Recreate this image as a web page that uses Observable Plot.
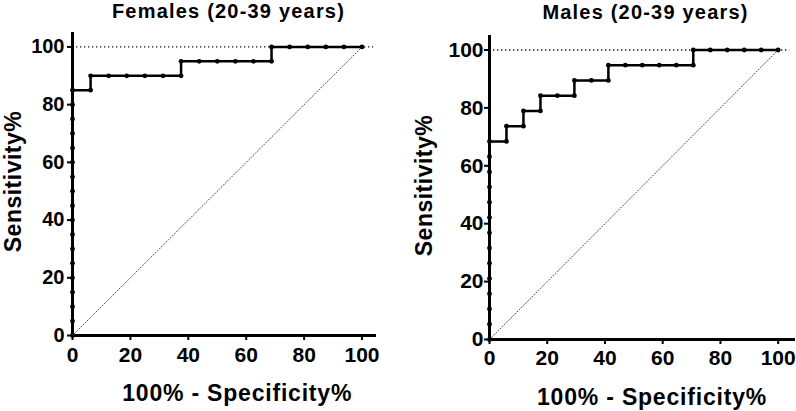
<!DOCTYPE html>
<html>
<head>
<meta charset="utf-8">
<script src="https://cdn.jsdelivr.net/npm/d3@7"></script>
<script src="https://cdn.jsdelivr.net/npm/@observablehq/plot@0.6"></script>
<style>
  html, body { margin: 0; padding: 0; background: #fff; color: #000; }
  #wrap { display: flex; flex-direction: row; width: 796px; height: 411px; overflow: hidden; }
</style>
</head>
<body>
<div id="wrap"></div>
<script>
// ---- data (percent) ----
const panelTitles = ["Females (20-39 years)", "Males (20-39 years)"];
const xAxisTitle = "100% - Specificity%";
const yAxisTitle = "Sensitivity%";
const xTicks = [0, 20, 40, 60, 80, 100];
const yTicks = [0, 20, 40, 60, 80, 100];
const chanceLine = [0, 100];
const perfectLevel = [100];

// Females: 100% - specificity (x) and sensitivity (y)
const femaleX = [0, 0, 0, 0, 0, 0, 0, 0, 0, 0, 0, 0, 0, 0, 0, 0, 0, 0,
  6.25, 6.25, 12.5, 18.75, 25, 31.25, 37.5, 37.5, 43.75, 50, 56.25, 62.5,
  68.75, 68.75, 75, 81.25, 87.5, 93.75, 100];
const femaleY = [0, 5, 10, 15, 20, 25, 30, 35, 40, 45, 50, 55, 60, 65, 70, 75, 80, 85,
  85, 90, 90, 90, 90, 90, 90, 95, 95, 95, 95, 95,
  95, 100, 100, 100, 100, 100, 100];

// Males
const maleX = [0, 0, 0, 0, 0, 0, 0, 0, 0, 0, 0, 0, 0, 0,
  5.88, 5.88, 11.76, 11.76, 17.65, 17.65, 23.53, 29.41, 29.41, 35.29, 41.18, 41.18,
  47.06, 52.94, 58.82, 64.71, 70.59, 70.59, 76.47, 82.35, 88.24, 94.12, 100];
const maleY = [0, 5.26, 10.53, 15.79, 21.05, 26.32, 31.58, 36.84, 42.11, 47.37, 52.63, 57.89, 63.16, 68.42,
  68.42, 73.68, 73.68, 78.95, 78.95, 84.21, 84.21, 84.21, 89.47, 89.47, 89.47, 94.74,
  94.74, 94.74, 94.74, 94.74, 94.74, 100, 100, 100, 100, 100, 100];

function panel(cfg) {
  const pts = cfg.xs.map((x, i) => ({x, y: cfg.ys[i]}));
  const svg = Plot.plot({
    width: 398,
    height: 411,
    marginLeft: cfg.ml,
    marginRight: cfg.mr,
    marginTop: cfg.mt,
    marginBottom: cfg.mb,
    style: {fontFamily: "'Liberation Sans', Arial, sans-serif", fontWeight: "bold", color: "#000", background: "#fff", overflow: "visible"},
    x: {domain: [0, cfg.xmax]},
    y: {domain: [0, 105]},
    marks: [
      Plot.line(chanceLine, {x: d => d, y: d => d, stroke: "#444", strokeWidth: 1, strokeDasharray: "1,2"}),
      Plot.ruleY(perfectLevel, {x1: 0, x2: 104, stroke: "#111", strokeWidth: 1.3, strokeDasharray: "1.3,2.7"}),
      Plot.axisX({ticks: xTicks, tickSize: 5, tickPadding: cfg.xpad, strokeWidth: 2, fontSize: 21, fontWeight: "bold", label: null}),
      Plot.axisY({ticks: yTicks, tickSize: 5, tickPadding: cfg.ypad, strokeWidth: 2, fontSize: cfg.yfs, fontWeight: "bold", label: null}),
      Plot.ruleY([0], {stroke: "#000", strokeWidth: 3}),
      Plot.ruleX([0], {stroke: "#000", strokeWidth: 3}),
      Plot.line(pts, {x: "x", y: "y", stroke: "#000", strokeWidth: 2.5}),
      Plot.dot(pts, {x: "x", y: "y", r: 2.4, fill: "#000", stroke: null}),
      Plot.text([cfg.title], {frameAnchor: "top", textAnchor: "middle", dx: cfg.tdx, dy: cfg.tdy, fontSize: 20, fontWeight: "bold", fill: "#000", lineAnchor: "middle"}),
      Plot.text([xAxisTitle], {frameAnchor: "bottom", textAnchor: "middle", dx: cfg.xtdx, dy: cfg.xtdy, fontSize: 23, fontWeight: "bold", fill: "#000", lineAnchor: "middle"}),
      Plot.text([yAxisTitle], {frameAnchor: "left", textAnchor: "middle", rotate: -90, dx: cfg.ytdx, dy: cfg.ytdy, fontSize: 23, fontWeight: "bold", fill: "#000", lineAnchor: "middle"})
    ]
  });
  const spacing = new Map([[cfg.title, "1.2px"], [xAxisTitle, "0.8px"], [yAxisTitle, "0.5px"]]);
  d3.select(svg).selectAll("text").each(function () {
    const s = spacing.get(this.textContent);
    if (s) this.style.letterSpacing = s;
  });
  return svg;
}

const wrap = document.getElementById("wrap");
wrap.appendChild(panel({
  xs: femaleX, ys: femaleY, title: panelTitles[0],
  ml: 72, mr: 22, mt: 32, mb: 76, xmax: 105,
  xpad: 6.7, ypad: 3, yfs: 20,
  tdx: 4, tdy: -20.5,
  xtdx: 12.7, xtdy: 58,
  ytdx: -59, ytdy: -2.5
}));
wrap.appendChild(panel({
  xs: maleX, ys: maleY, title: panelTitles[1],
  ml: 91, mr: 1, mt: 35, mb: 72, xmax: 106,
  xpad: 6, ypad: 1, yfs: 21,
  tdx: 3, tdy: -23.3,
  xtdx: 9.5, xtdy: 57.7,
  ytdx: -65, ytdy: -2
}));
</script>
</body>
</html>
